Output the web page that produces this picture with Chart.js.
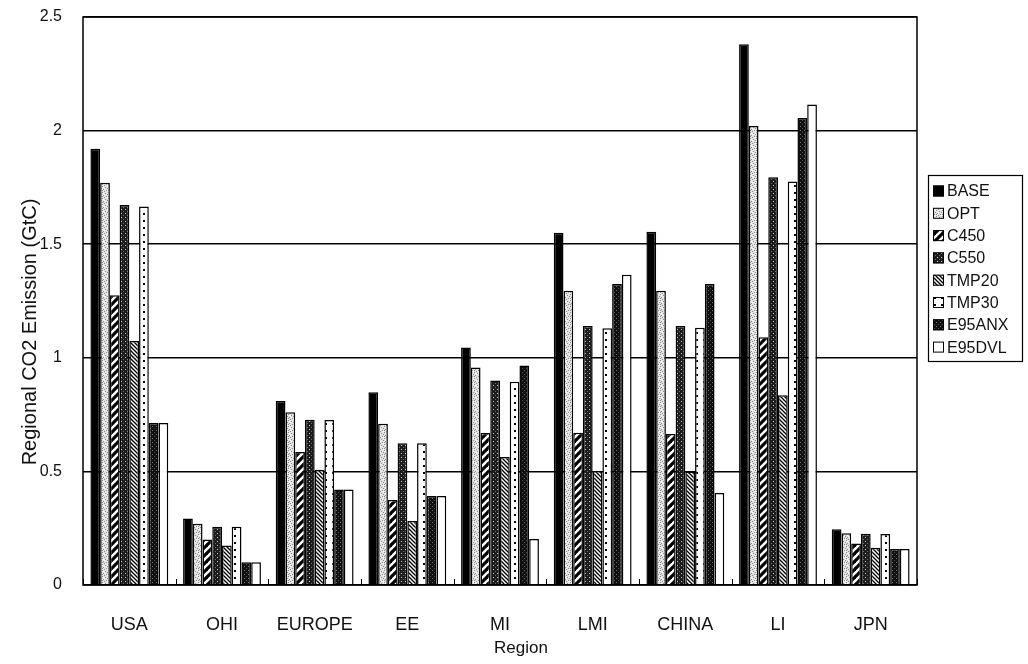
<!DOCTYPE html>
<html>
<head>
<meta charset="utf-8">
<script src="https://cdn.jsdelivr.net/npm/chart.js@4/dist/chart.umd.min.js"></script>
<style>
  html, body { margin: 0; padding: 0; background: #ffffff; }
  #wrap { width: 1028px; height: 664px; position: relative; }
</style>
</head>
<body>
<div id="wrap"><canvas id="c" width="1028" height="664"></canvas></div>
<script>
// Regional CO2 emissions by scenario (GtC)
const regions = ["USA", "OHI", "EUROPE", "EE", "MI", "LMI", "CHINA", "LI", "JPN"];
const scenarioNames = ["BASE", "OPT", "C450", "C550", "TMP20", "TMP30", "E95ANX", "E95DVL"];

const BASE   = [1.92, 0.293, 0.81, 0.848, 1.045, 1.55, 1.555, 2.38, 0.245];
const OPT    = [1.771, 0.27, 0.76, 0.71, 0.957, 1.295, 1.295, 2.02, 0.228];
const C450   = [1.275, 0.2, 0.585, 0.374, 0.669, 0.67, 0.665, 1.09, 0.183];
const C550   = [1.672, 0.256, 0.727, 0.624, 0.9, 1.14, 1.14, 1.795, 0.226];
const TMP20  = [1.074, 0.174, 0.507, 0.282, 0.563, 0.502, 0.5, 0.835, 0.164];
const TMP30  = [1.666, 0.256, 0.726, 0.624, 0.895, 1.13, 1.132, 1.776, 0.224];
const E95ANX = [0.713, 0.1, 0.42, 0.392, 0.966, 1.325, 1.325, 2.055, 0.158];
const E95DVL = [0.713, 0.1, 0.42, 0.392, 0.203, 1.365, 0.405, 2.115, 0.158];

const yTicks = [0, 0.5, 1, 1.5, 2, 2.5];
const yTickLabels = ["0", "0.5", "1", "1.5", "2", "2.5"];

const seriesValues = [BASE, OPT, C450, C550, TMP20, TMP30, E95ANX, E95DVL];

// ---- fill patterns ----
function makePattern(w, h, draw) {
  const cv = document.createElement('canvas');
  cv.width = w; cv.height = h;
  const g = cv.getContext('2d');
  draw(g, w, h);
  return g.createPattern(cv, 'repeat');
}
function px(g, x, y, c, s) { g.fillStyle = c; g.fillRect(x, y, s || 1, s || 1); }

const fills = [
  '#000000',
  // light grey stipple
  makePattern(6, 6, (g, w, h) => {
    g.fillStyle = '#e4e4e4'; g.fillRect(0, 0, w, h);
    [[0,0],[3,1],[1,3],[4,4],[2,5],[5,2],[0,4]].forEach(p => px(g, p[0], p[1], '#8a8a8a'));
    [[2,2],[5,5],[1,1]].forEach(p => px(g, p[0], p[1], '#ffffff'));
  }),
  // bold forward diagonal stripes
  makePattern(8, 8, (g, w, h) => {
    g.fillStyle = '#ffffff'; g.fillRect(0, 0, w, h);
    g.strokeStyle = '#000000'; g.lineWidth = 3.2;
    for (let k = -1; k <= 1; k++) {
      g.beginPath(); g.moveTo(k * 8 - 1, h + 1); g.lineTo(k * 8 + w + 1, -1); g.stroke();
    }
  }),
  // dark with light dots
  makePattern(4, 4, (g, w, h) => {
    g.fillStyle = '#1c1c1c'; g.fillRect(0, 0, w, h);
    px(g, 1, 1, '#d0d0d0'); px(g, 3, 3, '#707070');
  }),
  // fine back diagonal stripes
  makePattern(4, 4, (g, w, h) => {
    g.fillStyle = '#ffffff'; g.fillRect(0, 0, w, h);
    g.strokeStyle = '#000000'; g.lineWidth = 1.3;
    for (let k = -1; k <= 1; k++) {
      g.beginPath(); g.moveTo(k * 4 - 1, -1); g.lineTo(k * 4 + w + 1, h + 1); g.stroke();
    }
  }),
  // white with sparse black dots
  makePattern(7, 7, (g, w, h) => {
    g.fillStyle = '#ffffff'; g.fillRect(0, 0, w, h);
    px(g, 3, 3, '#000000', 2);
  }),
  // near black with grey speckles
  makePattern(4, 4, (g, w, h) => {
    g.fillStyle = '#101010'; g.fillRect(0, 0, w, h);
    px(g, 0, 2, '#7a7a7a'); px(g, 2, 0, '#555555');
  }),
  '#ffffff'
];

const datasets = scenarioNames.map((name, i) => ({
  label: name,
  data: seriesValues[i],
  backgroundColor: fills[i],
  borderColor: '#000000',
  borderWidth: 1.5,
  borderSkipped: 'bottom',
  barPercentage: 1.0,
  categoryPercentage: 0.84
}));

const FONT = '"Liberation Sans", Arial, sans-serif';

// plot frame, inner tick marks, axis titles and boxed legend
const decorPlugin = {
  id: 'decor',
  afterDraw(chart) {
    const ctx = chart.ctx;
    const a = chart.chartArea;
    const xs = chart.scales.x;
    ctx.save();
    ctx.strokeStyle = '#000000';
    ctx.lineWidth = 1.5;
    ctx.strokeRect(a.left, a.top, a.right - a.left, a.bottom - a.top);

    // short category-boundary ticks rising from the baseline
    ctx.lineWidth = 1;
    for (let i = 0; i <= regions.length; i++) {
      let x;
      if (i === 0) x = a.left;
      else if (i === regions.length) x = a.right;
      else x = (xs.getPixelForValue(i - 1) + xs.getPixelForValue(i)) / 2;
      ctx.beginPath();
      ctx.moveTo(Math.round(x) + 0.5, a.bottom);
      ctx.lineTo(Math.round(x) + 0.5, a.bottom - 6);
      ctx.stroke();
    }

    // axis titles
    ctx.fillStyle = '#111111';
    ctx.font = '17px ' + FONT;
    ctx.textAlign = 'center';
    ctx.textBaseline = 'middle';
    ctx.fillText('Region', 521, 648);
    ctx.save();
    ctx.translate(30, 332);
    ctx.rotate(-Math.PI / 2);
    ctx.font = '20px ' + FONT;
    ctx.fillText('Regional CO2 Emission (GtC)', 0, 0);
    ctx.restore();

    // legend
    const lx = 928, ly = 175, lw = 94, lh = 186;
    ctx.fillStyle = '#ffffff';
    ctx.fillRect(lx, ly, lw, lh);
    ctx.lineWidth = 1.2;
    ctx.strokeStyle = '#000000';
    ctx.strokeRect(lx + 0.5, ly + 0.5, lw, lh);
    ctx.font = '16px ' + FONT;
    ctx.textAlign = 'left';
    chart.data.datasets.forEach((ds, i) => {
      const cy = 191 + i * 22.3;
      ctx.fillStyle = ds.backgroundColor;
      ctx.fillRect(933, cy - 5.5, 11, 11);
      ctx.lineWidth = 1;
      ctx.strokeStyle = '#000000';
      ctx.strokeRect(933.5, cy - 5, 10, 10);
      ctx.fillStyle = '#111111';
      ctx.fillText(ds.label, 947, cy + 1);
    });
    ctx.restore();
  }
};

new Chart(document.getElementById('c'), {
  type: 'bar',
  data: { labels: regions, datasets },
  options: {
    responsive: false,
    animation: false,
    devicePixelRatio: 1,
    layout: { padding: { left: 0, top: 17, right: 111, bottom: 0 } },
    plugins: { legend: { display: false }, tooltip: { enabled: false } },
    scales: {
      x: {
        grid: { display: false },
        border: { display: false },
        ticks: { color: '#111111', font: { family: FONT, size: 18 }, padding: 21, maxRotation: 0 },
        afterFit(s) { s.height = 79; }
      },
      y: {
        min: 0,
        max: 2.5,
        afterBuildTicks(s) { s.ticks = yTicks.map(v => ({ value: v })); },
        grid: { color: '#000000', lineWidth: 1.5, drawTicks: false },
        border: { display: false },
        ticks: {
          color: '#111111', font: { family: FONT, size: 16 }, padding: 21,
          callback: (v) => yTickLabels[yTicks.indexOf(v)]
        },
        afterFit(s) { s.width = 83; s.paddingTop = 0; s.paddingBottom = 0; }
      }
    }
  },
  plugins: [decorPlugin]
});
</script>
</body>
</html>
